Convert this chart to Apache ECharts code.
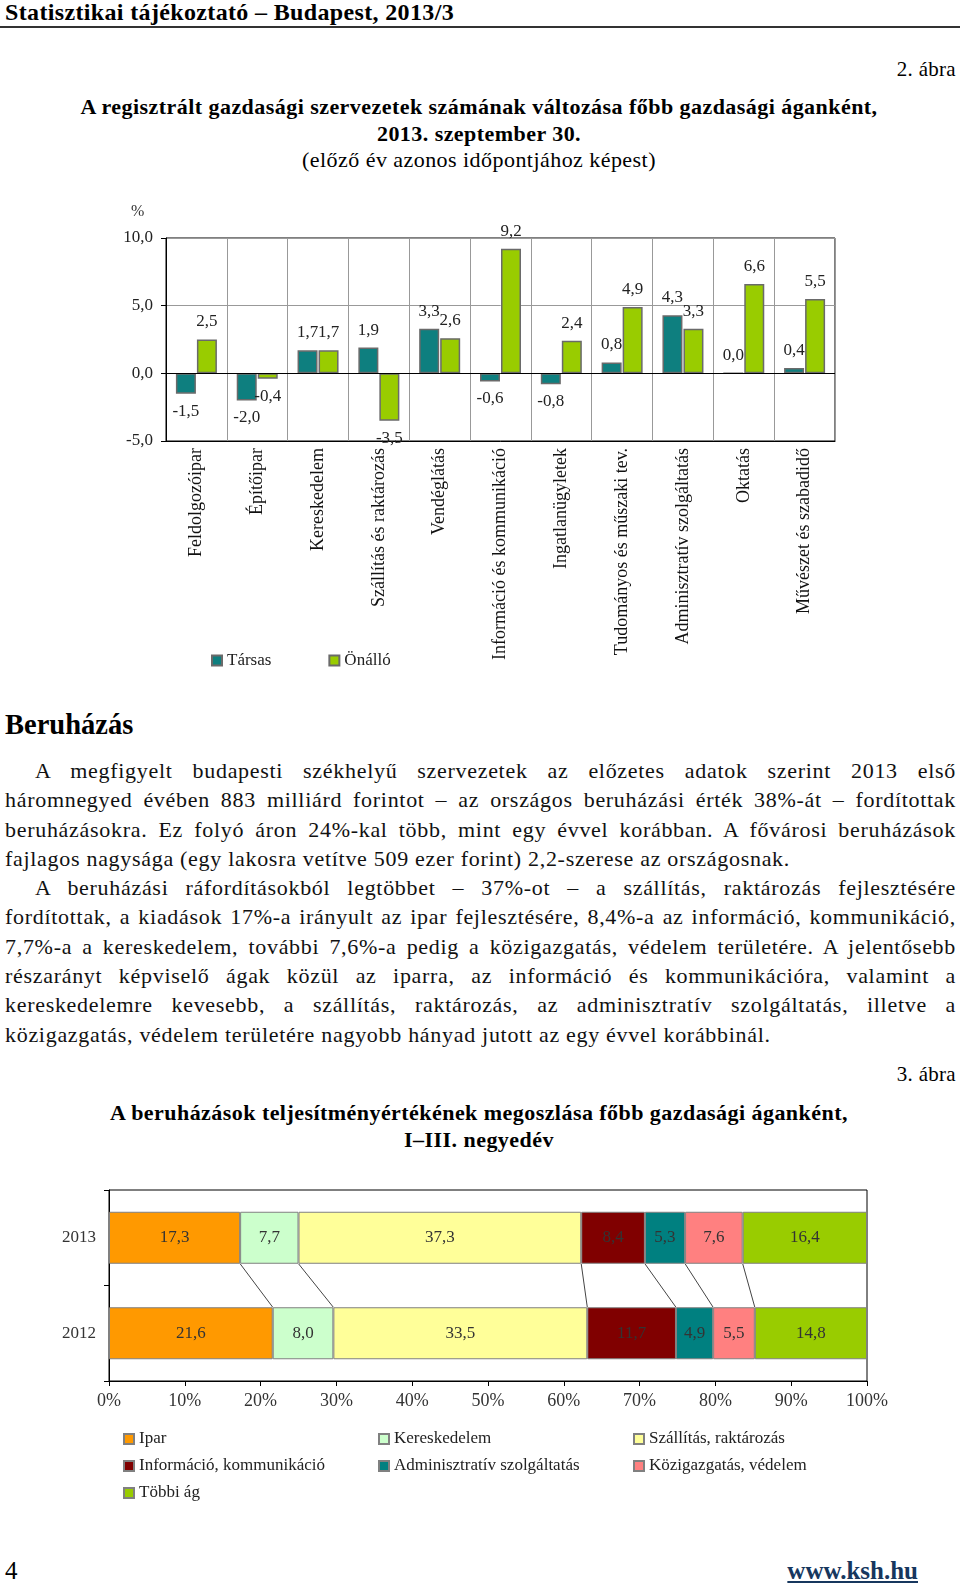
<!DOCTYPE html>
<html lang="hu">
<head>
<meta charset="utf-8">
<title>Statisztikai tájékoztató – Budapest, 2013/3</title>
<script src="https://cdn.jsdelivr.net/npm/echarts@6/dist/echarts.min.js"></script>
<style>
  html, body { margin: 0; padding: 0; background: #fff; }
  body { width: 960px; height: 1586px; position: relative; overflow: hidden;
         font-family: 'Liberation Serif', 'DejaVu Serif', serif; color: #000; }
  .abs { position: absolute; }
  .head { left: 5px; top: 0; font-weight: bold; font-size: 24px; letter-spacing: 0.35px; line-height: 24px; }
  .rule { left: 0; top: 26px; width: 960px; height: 2px; background: #333; }
  .fig { right: 4px; font-size: 21px; letter-spacing: 0.3px; line-height: 22px; }
  .title { left: 0; width: 958px; text-align: center; font-size: 22px; letter-spacing: 0.45px; line-height: 26.5px; }
  .title b { font-weight: bold; }
  .section { left: 5px; top: 710px; font-weight: bold; font-size: 28.5px; line-height: 30px; }
  .text { left: 5px; top: 756px; width: 951px; font-size: 22px; letter-spacing: 0.7px; line-height: 29.3px; color: #111; }
  .text div { white-space: nowrap; text-align: justify; text-align-last: justify; }
  .text div.ind { text-indent: 30px; }
  .text div.last { text-align-last: left; }
  .foot { top: 1558px; font-size: 25px; line-height: 26px; }
  .foot a { color: #17375E; font-weight: bold; text-decoration: underline; }
  #bars { left: 0; top: 190px; width: 960px; height: 490px; }
  #shares { left: 0; top: 1170px; width: 960px; height: 350px; }
</style>
</head>
<body>
<div class="abs head">Statisztikai tájékoztató – Budapest, 2013/3</div>
<div class="abs rule"></div>

<div class="abs fig" style="top:58px">2. ábra</div>
<div class="abs title" style="top:94px">
  <b>A regisztrált gazdasági szervezetek számának változása főbb gazdasági áganként,</b><br>
  <b>2013. szeptember 30.</b><br>
  (előző év azonos időpontjához képest)
</div>

<div id="bars" class="abs"></div>

<div class="abs section">Beruházás</div>
<div class="abs text">
  <div class="ind">A megfigyelt budapesti székhelyű szervezetek az előzetes adatok szerint 2013 első</div>
  <div>háromnegyed évében 883 milliárd forintot – az országos beruházási érték 38%-át – fordítottak</div>
  <div>beruházásokra. Ez folyó áron 24%-kal több, mint egy évvel korábban. A fővárosi beruházások</div>
  <div class="last">fajlagos nagysága (egy lakosra vetítve 509 ezer forint) 2,2-szerese az országosnak.</div>
  <div class="ind">A beruházási ráfordításokból legtöbbet – 37%-ot – a szállítás, raktározás fejlesztésére</div>
  <div>fordítottak, a kiadások 17%-a irányult az ipar fejlesztésére, 8,4%-a az információ, kommunikáció,</div>
  <div>7,7%-a a kereskedelem, további 7,6%-a pedig a közigazgatás, védelem területére. A jelentősebb</div>
  <div>részarányt képviselő ágak közül az iparra, az információ és kommunikációra, valamint a</div>
  <div>kereskedelemre kevesebb, a szállítás, raktározás, az adminisztratív szolgáltatás, illetve a</div>
  <div class="last">közigazgatás, védelem területére nagyobb hányad jutott az egy évvel korábbinál.</div>
</div>

<div class="abs fig" style="top:1063px">3. ábra</div>
<div class="abs title" style="top:1100px">
  <b>A beruházások teljesítményértékének megoszlása főbb gazdasági áganként,</b><br>
  <b>I–III. negyedév</b>
</div>

<div id="shares" class="abs"></div>

<div class="abs foot" style="left:5px">4</div>
<div class="abs foot" style="right:42px"><a>www.ksh.hu</a></div>

<script>
var FONT = 'Liberation Serif'

// 2. ábra: változás az előző évhez képest, %
var branches = ['Feldolgozóipar', 'Építőipar', 'Kereskedelem', 'Szállítás és raktározás', 'Vendéglátás',
  'Információ és kommunikáció', 'Ingatlanügyletek', 'Tudományos és műszaki tev.',
  'Adminisztratív szolgáltatás', 'Oktatás', 'Művészet és szabadidő']
var tarsas = [-1.5, -2.0, 1.7, 1.9, 3.3, -0.6, -0.8, 0.8, 4.3, 0.0, 0.4]
var onallo = [2.5, -0.4, 1.7, -3.5, 2.6, 9.2, 2.4, 4.9, 3.3, 6.6, 5.5]
var changeMin = -5
var changeMax = 10
var changeStep = 5

// 3. ábra: megoszlás, %
var years = ['2012', '2013']
var sectors = ['Ipar', 'Kereskedelem', 'Szállítás, raktározás', 'Információ, kommunikáció',
  'Adminisztratív szolgáltatás', 'Közigazgatás, védelem', 'Többi ág']
var share2012 = [21.6, 8.0, 33.5, 11.7, 4.9, 5.5, 14.8]
var share2013 = [17.3, 7.7, 37.3, 8.4, 5.3, 7.6, 16.4]
var sectorColors = ['#FF9900', '#CCFFCC', '#FFFF99', '#800000', '#008080', '#FF8080', '#99CC00']

function comma (v) {
  return Number(v).toFixed(1).replace('.', ',')
}

function withSideLabels (values) {
  return values.map(function (v) {
    return { value: v, label: { position: v < 0 ? 'bottom' : 'top' } }
  })
}

var barChart = echarts.init(document.getElementById('bars'))
barChart.setOption({
  animation: false,
  textStyle: { fontFamily: FONT },
  graphic: [{
    type: 'text', left: 131, top: 14,
    style: { text: '%', fontSize: 16, fontFamily: FONT, fill: '#333' }
  }],
  legend: {
    data: ['Társas', 'Önálló'],
    left: 206,
    top: 457,
    itemWidth: 10,
    itemHeight: 10,
    itemGap: 57,
    icon: 'rect',
    textStyle: { fontSize: 17, fontFamily: FONT, color: '#222', width: 52 }
  },
  grid: {
    left: 166, top: 48, width: 669, height: 203,
    show: true, borderColor: '#000', borderWidth: 1
  },
  xAxis: {
    type: 'category',
    data: branches,
    axisLine: { onZero: false, lineStyle: { color: '#000' } },
    axisTick: { show: false },
    splitLine: { show: true, interval: 0, lineStyle: { color: '#999' } },
    axisLabel: {
      interval: 0, rotate: 90, margin: 7,
      fontSize: 18, fontFamily: FONT, color: '#111'
    }
  },
  yAxis: {
    type: 'value',
    min: changeMin, max: changeMax, interval: changeStep,
    axisLine: { show: true, lineStyle: { color: '#000' } },
    axisTick: { show: true, length: 5, lineStyle: { color: '#000' } },
    splitLine: { lineStyle: { color: '#999' } },
    axisLabel: { margin: 13, fontSize: 17, fontFamily: FONT, color: '#222', formatter: comma }
  },
  series: [
    {
      name: 'Társas',
      type: 'bar',
      data: withSideLabels(tarsas),
      barWidth: 20,
      barGap: '5%',
      itemStyle: { color: '#0E7F7F', borderColor: '#6a6a6a', borderWidth: 1.5 },
      label: {
        show: true, distance: 9, fontSize: 17, fontFamily: FONT, color: '#222',
        formatter: function (p) { return comma(p.value) }
      },
      markLine: {
        silent: true,
        symbol: 'none',
        label: { show: false },
        lineStyle: { color: '#000', type: 'solid', width: 1 },
        data: [{ yAxis: 0 }]
      }
    },
    {
      name: 'Önálló',
      type: 'bar',
      data: withSideLabels(onallo),
      barWidth: 20,
      itemStyle: { color: '#99CC00', borderColor: '#6a6a6a', borderWidth: 1.5 },
      label: {
        show: true, distance: 9, fontSize: 17, fontFamily: FONT, color: '#222',
        formatter: function (p) { return comma(p.value) }
      }
    }
  ]
})

// kumulált határok a sorozatvonalakhoz
var seriesLines = []
var c12 = 0
var c13 = 0
for (var i = 0; i < sectors.length - 1; i++) {
  c12 += share2012[i]
  c13 += share2013[i]
  seriesLines.push([c13, c12, 0])
}

var barHeight = 52
var stackSeries = sectors.map(function (name, i) {
  return {
    name: name,
    type: 'bar',
    stack: 'total',
    barWidth: barHeight,
    data: [share2012[i], share2013[i]],
    itemStyle: { color: sectorColors[i], borderColor: '#808080', borderWidth: 1 },
    label: {
      show: true, position: 'inside', fontSize: 17, fontFamily: FONT, color: '#333',
      formatter: function (p) { return comma(p.value) }
    }
  }
})
stackSeries.push({
  type: 'custom',
  silent: true,
  z: 5,
  encode: { x: [0, 1], y: 2 },
  data: seriesLines,
  renderItem: function (params, api) {
    var upper = api.coord([api.value(0), 1])
    var lower = api.coord([api.value(1), 0])
    return {
      type: 'line',
      shape: { x1: upper[0], y1: upper[1] + barHeight / 2, x2: lower[0], y2: lower[1] - barHeight / 2 },
      style: { stroke: '#444', lineWidth: 1 }
    }
  }
})

var legendBase = {
  orient: 'vertical',
  top: 255,
  itemWidth: 10,
  itemHeight: 10,
  itemGap: 9,
  icon: 'rect',
  textStyle: { fontSize: 17, fontFamily: FONT, color: '#222', lineHeight: 18 }
}

var shareChart = echarts.init(document.getElementById('shares'))
shareChart.setOption({
  animation: false,
  textStyle: { fontFamily: FONT },
  legend: [
    Object.assign({}, legendBase, { left: 118, data: [sectors[0], sectors[3], sectors[6]] }),
    Object.assign({}, legendBase, { left: 373, data: [sectors[1], sectors[4]] }),
    Object.assign({}, legendBase, { left: 628, data: [sectors[2], sectors[5]] })
  ],
  grid: {
    left: 109, top: 20, width: 758, height: 191,
    show: true, borderColor: '#000', borderWidth: 1
  },
  xAxis: {
    type: 'value',
    min: 0, max: 100, interval: 10,
    axisLine: { show: true, lineStyle: { color: '#000' } },
    axisTick: { show: true, length: 5, lineStyle: { color: '#000' } },
    splitLine: { show: false },
    axisLabel: { margin: 11, fontSize: 18, fontFamily: FONT, color: '#333', formatter: '{value}%' }
  },
  yAxis: {
    type: 'category',
    data: years,
    axisLine: { show: true, lineStyle: { color: '#000' } },
    axisTick: { show: true, length: 5, lineStyle: { color: '#000' } },
    axisLabel: { margin: 13, fontSize: 17, fontFamily: FONT, color: '#333' }
  },
  series: stackSeries
})
</script>
</body>
</html>
